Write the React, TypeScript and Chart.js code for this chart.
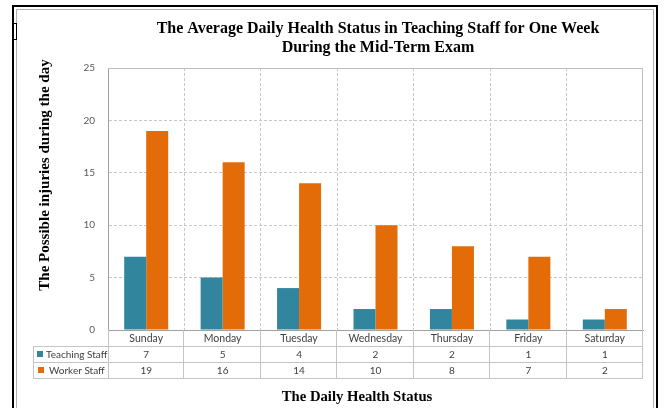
import React, { useEffect, useRef } from "react";
import { Chart, registerables } from "chart.js";

Chart.register(...registerables);

const categories = ["Sunday", "Monday", "Tuesday", "Wednesday", "Thursday", "Friday", "Saturday"];
const teachingStaff = [7, 5, 4, 2, 2, 1, 1];
const workerStaff = [19, 16, 14, 10, 8, 7, 2];
const seriesNames = ["Teaching Staff", "Worker Staff"];
const seriesColors = ["#31859c", "#e36c09"];
const titleLines = ["The Average Daily Health Status in Teaching Staff for One Week", "During the Mid-Term Exam"];
const yTitle = "The Possible injuries during the day";
const xTitle = "The Daily Health Status";
const yMax = 25;
const yStep = 5;

const SANS = "Lato, 'Open Sans', sans-serif";
const SERIF = "'Liberation Serif', 'DejaVu Serif', serif";

const decorPlugin = {
  id: "decor",
  beforeDraw(chart: any) {
    const { ctx, width, height } = chart;
    ctx.save();
    ctx.fillStyle = "#ffffff";
    ctx.fillRect(0, 0, width, height);
    ctx.restore();
  },
  afterDraw(chart: any) {
    const { ctx, chartArea } = chart;
    const xs = chart.scales.x;
    const { left, right, top, bottom } = chartArea;
    ctx.save();

    // plot frame (top/right)
    ctx.strokeStyle = "#bfbfbf";
    ctx.lineWidth = 1;
    ctx.setLineDash([]);
    ctx.beginPath();
    ctx.moveTo(left, top + 0.5);
    ctx.lineTo(right, top + 0.5);
    ctx.moveTo(right - 0.5, top);
    ctx.lineTo(right - 0.5, bottom);
    ctx.stroke();

    // data table
    const n = categories.length;
    const colW = (right - left) / n;
    const r0 = bottom;
    const r1 = bottom + 16;
    const r2 = bottom + 32;
    const r3 = bottom + 48;
    const tableLeft = 33;
    ctx.strokeStyle = "#c4c4c4";
    ctx.beginPath();
    [r1, r2, r3].forEach((y) => {
      ctx.moveTo(tableLeft, Math.round(y) + 0.5);
      ctx.lineTo(right, Math.round(y) + 0.5);
    });
    ctx.moveTo(tableLeft + 0.5, r1);
    ctx.lineTo(tableLeft + 0.5, r3);
    for (let k = 0; k <= n; k++) {
      const x = Math.round(left + k * colW) - 0.5;
      ctx.moveTo(x + (k === 0 ? 1 : 0), r0);
      ctx.lineTo(x + (k === 0 ? 1 : 0), r3);
    }
    ctx.stroke();

    ctx.font = `10px ${SANS}`;
    ctx.fillStyle = "#404040";
    ctx.textAlign = "center";
    ctx.textBaseline = "middle";
    const rows = [teachingStaff, workerStaff];
    rows.forEach((vals, ri) => {
      const cy = (ri === 0 ? r1 : r2) + 8;
      vals.forEach((v, i) => {
        ctx.fillText(String(v), xs.getPixelForValue(i), cy + 0.5);
      });
      ctx.fillStyle = seriesColors[ri];
      ctx.fillRect(ri === 0 ? 37 : 38, cy - 3, 6, 6);
      ctx.fillStyle = "#404040";
      ctx.textAlign = "left";
      ctx.fillText(seriesNames[ri], ri === 0 ? 46 : 49, cy + 0.5);
      ctx.textAlign = "center";
    });

    // titles
    ctx.fillStyle = "#000000";
    ctx.font = `bold 16px ${SERIF}`;
    ctx.textAlign = "center";
    ctx.textBaseline = "alphabetic";
    const cx = 378;
    ctx.fillText(titleLines[0], cx, 33);
    ctx.fillText(titleLines[1], cx, 52);

    ctx.font = `bold 14.7px ${SERIF}`;
    ctx.fillText(xTitle, 357, 401);

    ctx.save();
    ctx.font = `bold 15px ${SERIF}`;
    ctx.translate(49, 175);
    ctx.rotate(-Math.PI / 2);
    ctx.fillText(yTitle, 0, 0);
    ctx.restore();

    // outer frame
    ctx.strokeStyle = "#000000";
    ctx.lineWidth = 2;
    ctx.beginPath();
    ctx.moveTo(13, 408);
    ctx.lineTo(13, 6);
    ctx.lineTo(657, 6);
    ctx.lineTo(657, 408);
    ctx.stroke();
    ctx.strokeStyle = "#b0b0b0";
    ctx.lineWidth = 1;
    ctx.beginPath();
    ctx.moveTo(16.5, 408);
    ctx.lineTo(16.5, 9.5);
    ctx.lineTo(653.5, 9.5);
    ctx.lineTo(653.5, 408);
    ctx.stroke();
    ctx.strokeStyle = "#000000";
    ctx.lineWidth = 1;
    ctx.fillStyle = "#ffffff";
    ctx.fillRect(13.5, 23.5, 3, 16);
    ctx.strokeRect(13.5, 23.5, 3, 16);

    ctx.restore();
  },
};

export default function App() {
  const ref = useRef<HTMLCanvasElement | null>(null);
  useEffect(() => {
    document.body.style.margin = "0";
    const canvas = ref.current;
    if (!canvas) return;
    const chart = new Chart(canvas, {
      type: "bar",
      data: {
        labels: categories,
        datasets: [
          {
            label: seriesNames[0],
            data: teachingStaff,
            backgroundColor: seriesColors[0],
            barPercentage: 1,
            categoryPercentage: 0.576,
          },
          {
            label: seriesNames[1],
            data: workerStaff,
            backgroundColor: seriesColors[1],
            barPercentage: 1,
            categoryPercentage: 0.576,
          },
        ],
      },
      options: {
        responsive: false,
        animation: false,
        devicePixelRatio: 1,
        layout: { padding: { top: 68, right: 21, bottom: 62, left: 0 } },
        plugins: {
          legend: { display: false },
          tooltip: { enabled: false },
          title: { display: false },
        },
        scales: {
          x: {
            grid: { color: "#c8c8c8", drawTicks: false, offset: true },
            border: { color: "#a0a0a0", dash: [3, 2] },
            ticks: { color: "#404040", font: { family: SANS, size: 10.5 }, padding: 2, maxRotation: 0 },
            afterFit: (s: any) => {
              s.height = 16;
            },
          },
          y: {
            min: 0,
            max: yMax,
            grid: { color: "#c8c8c8", drawTicks: false },
            border: { color: "#a0a0a0", dash: [3, 2] },
            ticks: { stepSize: yStep, color: "#595959", font: { family: SANS, size: 10 }, padding: 13 },
            afterFit: (s: any) => {
              s.width = 108;
            },
          },
        },
      },
      plugins: [decorPlugin],
    });
    return () => chart.destroy();
  }, []);
  return (
    <div style={{ position: "absolute", left: 0, top: 0 }}>
      <canvas ref={ref} width={664} height={408} style={{ display: "block" }} />
    </div>
  );
}
